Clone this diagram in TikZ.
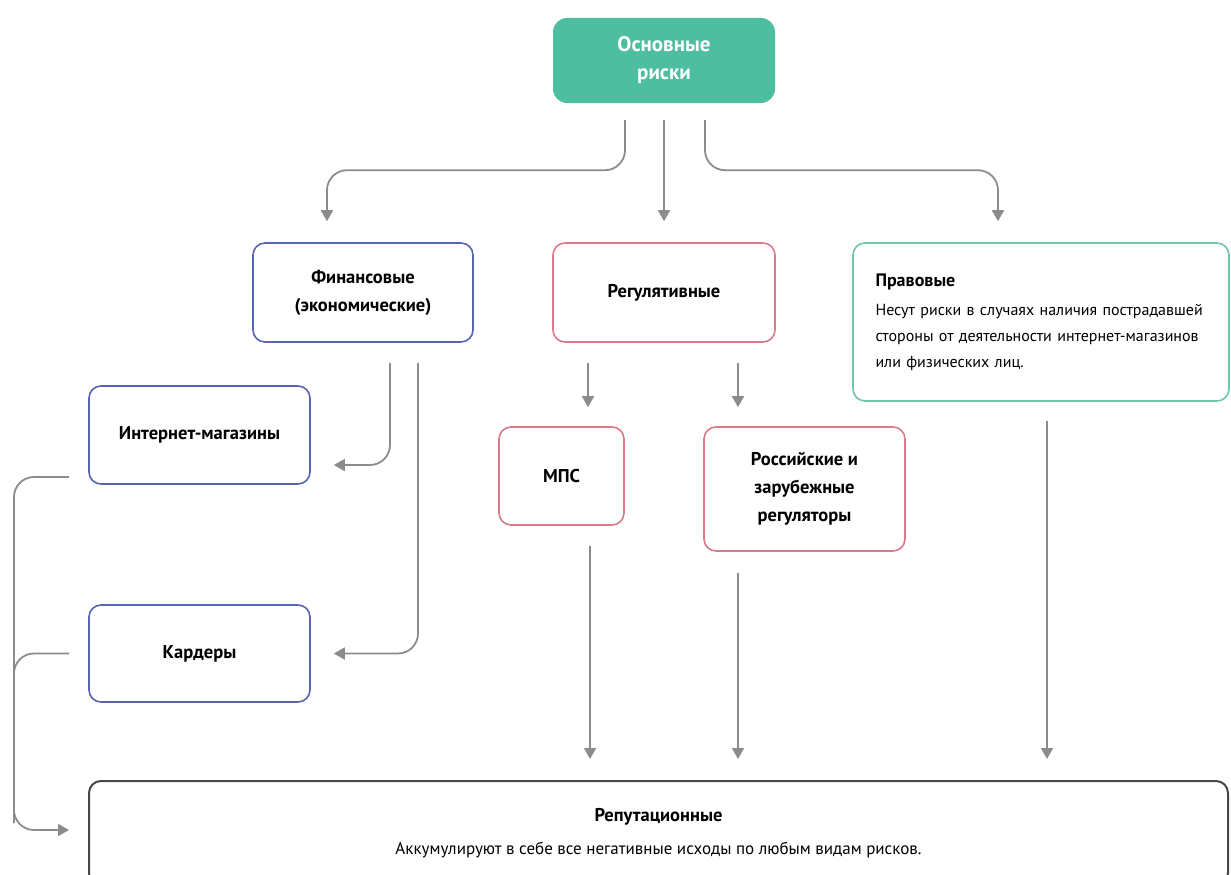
\documentclass[tikz,border=0pt]{standalone}
\usepackage{fontspec}
\setmainfont{PT Sans}
\usetikzlibrary{arrows.meta,calc}
\definecolor{tealfill}{RGB}{78,190,160}
\definecolor{tealline}{RGB}{110,198,170}
\definecolor{blueline}{RGB}{88,100,178}
\definecolor{pinkline}{RGB}{218,122,138}
\definecolor{darkline}{RGB}{70,70,70}
\definecolor{arrgray}{RGB}{140,140,140}

\begin{document}
\begin{tikzpicture}[x=1pt,y=-1pt,
            box/.style={draw,rounded corners=12pt,line width=1.6pt,align=center,
                font=\bfseries\fontsize{18.5}{28}\selectfont},
            finbox/.style={box,draw=blueline},
            regbox/.style={box,draw=pinkline},
            arr/.style={-{Triangle[width=12pt,length=11pt]},draw=arrgray,line width=1.8pt,rounded corners=20pt}]
                \useasboundingbox (0,0) rectangle (1231,875);
                \node[fill=tealfill,rounded corners=14pt,text=white,align=center,
                    font=\bfseries\fontsize{21}{28}\selectfont,
                    minimum width=222pt,minimum height=85pt](osn) at (664, 60.5) {Основные\\риски};
                \node[finbox,minimum width=220pt,minimum height=99pt](fin) at (363, 292.5) {Финансовые\\(экономические)};
                \node[regbox,minimum width=222pt,minimum height=99pt](reg) at (664, 292.5) {Регулятивные};
                \node[box,draw=tealline,align=left,text width=331pt,minimum height=158pt,inner xsep=22.5pt,
                    font=\fontsize{16}{26}\selectfont](prav) at (1041, 322)
                    {{\bfseries\fontsize{18}{26}\selectfont Правовые}\\[3pt]Несут риски в случаях наличия пострадавшей\\стороны от деятельности интернет-магазинов\\или физических лиц.};
                \node[finbox,minimum width=221pt,minimum height=98pt](inet) at (199.5, 435) {Интернет-магазины};
                \node[regbox,minimum width=125pt,minimum height=98pt](mps) at (561.5, 476) {МПС};
                \node[regbox,minimum width=201pt,minimum height=124pt](ros) at (804.5, 489) {Российские и\\зарубежные\\регуляторы};
                \node[finbox,minimum width=221pt,minimum height=97pt](kard) at (199.5, 653.5) {Кардеры};
                \node[box,draw=darkline,line width=2pt,minimum width=1139pt,minimum height=104pt,
                    font=\fontsize{17}{33}\selectfont](rep) at (658.5, 833)
                    {{\bfseries\fontsize{18.5}{33}\selectfont Репутационные}\\Аккумулируют в себе все негативные исходы по любым видам рисков.};

            \begin{scope}[arr]
                \draw ($(osn.south)+(-39,17)$) -- ++(0,50) -| ($(fin.north)+(-36,-21)$);
                \draw ($(osn.south)+(0,17)$) -- ($(reg.north)+(0,-21)$);
                \draw ($(osn.south)+(41,17)$) -- ++(0,50) -| ($(prav.north)+(-43,-21)$);
                \draw ($(fin.south)+(27,20)$) |- ($(inet.east)+(23,30)$);
                \draw ($(fin.south)+(55,20)$) |- ($(kard.east)+(23,0)$);
                \draw ($(reg.south)+(-76,20)$) -- ($(mps.north)+(26.5,-19)$);
                \draw ($(reg.south)+(74,20)$) -- ($(ros.north)+(-66.5,-19)$);
                \draw ($(mps.south)+(28.5,20)$) -- ($(rep.north)+(-68.5,-21)$);
                \draw ($(ros.south)+(-66.5,21)$) -- ($(rep.north)+(79.5,-21)$);
                \draw ($(prav.south)+(6,19)$) -- ($(rep.north)+(388.5,-21)$);
                \draw ($(inet.west)+(-19,42)$) -| ($(rep.west)+(-74,-30)$) |- ($(rep.west)+(-19,-3)$);
                \draw[-] ($(kard.west)+(-19,0)$) -| ($(rep.west)+(-74,-60)$);
            \end{scope}
        \end{tikzpicture}
\end{document}
